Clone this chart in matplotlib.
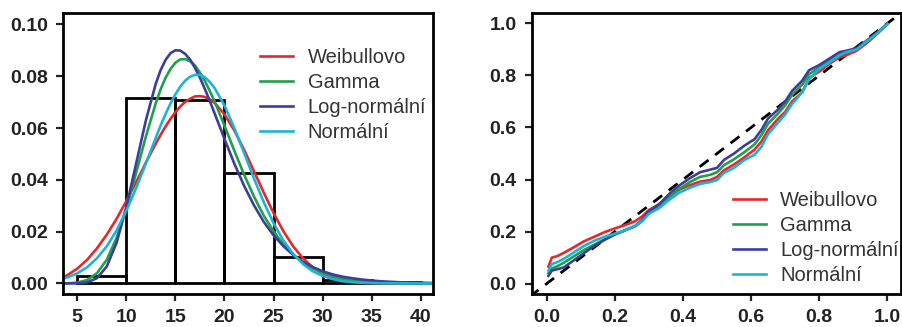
import numpy as np
import matplotlib
matplotlib.use("Agg")
import matplotlib.pyplot as plt

# histogram (bin edges and densities)
bin_left = [5, 10, 15, 20, 25, 30, 35]
bin_density = [0.0028, 0.0717, 0.0708, 0.0425, 0.0103, 0.0015, 0.0006]

# fitted density curves
dens_x = [3.5, 4, 5, 6, 7, 8, 9, 10, 11, 12, 13, 13.5, 14, 14.5, 15, 15.5, 16, 16.5,
          17, 17.5, 18, 18.5, 19, 20, 21, 22, 23, 24, 25, 26, 27, 28, 29, 30, 31, 32,
          33, 34, 35, 36, 37, 38, 39, 40, 41]
weibull = [0.0023, 0.0032, 0.0057, 0.0091, 0.0135, 0.0188, 0.0249, 0.0318, 0.0391, 0.0467,
           0.0540, 0.0574, 0.0606, 0.0635, 0.0661, 0.0683, 0.0701, 0.0713, 0.0722, 0.0723,
           0.0720, 0.0710, 0.0697, 0.0653, 0.0591, 0.0516, 0.0434, 0.0351, 0.0272, 0.0202,
           0.0143, 0.0097, 0.0062, 0.0038, 0.0022, 0.0012, 0.0006, 0.0003, 0.00013, 0.00005,
           0.00002, 0.0, 0.0, 0.0, 0.0]
gamma = [0.0, 0.00003, 0.0003, 0.0013, 0.0039, 0.0091, 0.0175, 0.0290, 0.0427, 0.0568,
         0.0696, 0.0750, 0.0794, 0.0828, 0.0852, 0.0865, 0.0866, 0.0858, 0.0841, 0.0814,
         0.0782, 0.0744, 0.0702, 0.0609, 0.0513, 0.0420, 0.0336, 0.0262, 0.0201, 0.0151,
         0.0111, 0.0081, 0.0058, 0.0041, 0.0028, 0.0019, 0.0013, 0.0009, 0.0006, 0.0004,
         0.00025, 0.00016, 0.0001, 0.00007, 0.00004]
lognormal = [0.0, 0.0, 0.0, 0.0004, 0.0020, 0.0065, 0.0156, 0.0295, 0.0463, 0.0631,
             0.0771, 0.0824, 0.0863, 0.0889, 0.0900, 0.0899, 0.0886, 0.0864, 0.0832, 0.0794,
             0.0751, 0.0705, 0.0656, 0.0558, 0.0463, 0.0377, 0.0302, 0.0238, 0.0186, 0.0144,
             0.0110, 0.0083, 0.0063, 0.0047, 0.0035, 0.0026, 0.0020, 0.0015, 0.0011, 0.0008,
             0.0006, 0.0004, 0.0003, 0.00023, 0.00017]
normal = [0.0018, 0.0023, 0.0039, 0.0062, 0.0097, 0.0143, 0.0204, 0.0280, 0.0368, 0.0464,
          0.0562, 0.0610, 0.0654, 0.0695, 0.0730, 0.0760, 0.0783, 0.0798, 0.0805, 0.0805,
          0.0796, 0.0778, 0.0754, 0.0687, 0.0600, 0.0504, 0.0406, 0.0314, 0.0233, 0.0166,
          0.0114, 0.0075, 0.0047, 0.0029, 0.0017, 0.0009, 0.0005, 0.00025, 0.00012, 0.00006,
          0.00003, 0.00001, 0.0, 0.0, 0.0]

# P-P plot
pp_x = [0.005, 0.015, 0.03, 0.05, 0.08, 0.11, 0.14, 0.17, 0.20, 0.23, 0.26, 0.28, 0.30,
        0.33, 0.36, 0.39, 0.42, 0.45, 0.48, 0.50, 0.52, 0.55, 0.58, 0.61, 0.63, 0.65,
        0.68, 0.70, 0.72, 0.75, 0.77, 0.80, 0.83, 0.86, 0.88, 0.91, 0.94, 0.97, 1.0]
pp_weibull = [0.065, 0.100, 0.105, 0.118, 0.140, 0.163, 0.180, 0.198, 0.212, 0.225, 0.240,
              0.258, 0.283, 0.305, 0.333, 0.362, 0.378, 0.392, 0.398, 0.410, 0.435, 0.458,
              0.485, 0.515, 0.545, 0.590, 0.635, 0.660, 0.700, 0.735, 0.790, 0.815, 0.845,
              0.870, 0.878, 0.895, 0.925, 0.960, 0.998]
pp_gamma = [0.040, 0.058, 0.066, 0.080, 0.105, 0.130, 0.150, 0.170, 0.188, 0.205, 0.220,
            0.240, 0.270, 0.298, 0.333, 0.365, 0.390, 0.410, 0.418, 0.428, 0.455, 0.478,
            0.505, 0.535, 0.570, 0.615, 0.655, 0.685, 0.725, 0.765, 0.805, 0.830, 0.855,
            0.880, 0.890, 0.900, 0.930, 0.962, 0.998]
pp_lognormal = [0.030, 0.050, 0.055, 0.062, 0.090, 0.118, 0.145, 0.168, 0.190, 0.205, 0.222,
                0.245, 0.278, 0.305, 0.345, 0.378, 0.405, 0.428, 0.438, 0.445, 0.475, 0.500,
                0.530, 0.555, 0.590, 0.635, 0.670, 0.700, 0.740, 0.780, 0.820, 0.840, 0.865,
                0.890, 0.895, 0.905, 0.935, 0.965, 0.998]
pp_normal = [0.050, 0.075, 0.082, 0.095, 0.120, 0.145, 0.165, 0.180, 0.192, 0.205, 0.222,
             0.240, 0.268, 0.290, 0.322, 0.350, 0.368, 0.383, 0.390, 0.398, 0.425, 0.445,
             0.475, 0.495, 0.525, 0.575, 0.620, 0.650, 0.690, 0.735, 0.785, 0.825, 0.850,
             0.878, 0.890, 0.900, 0.932, 0.962, 0.998]

labels = ["Weibullovo", "Gamma", "Log-normální", "Normální"]
colors = ["#e8262b", "#1fa04a", "#3b3f9a", "#1cb4d6"]

plt.rcParams['font.family'] = ['Liberation Sans', 'DejaVu Sans']

fig = plt.figure(figsize=(9.02, 3.27), dpi=100)
ax1 = fig.add_axes([0.0698, 0.1009, 0.4102, 0.8593])
ax2 = fig.add_axes([0.5895, 0.1009, 0.4094, 0.8593])

legend_kw = dict(frameon=False, fontsize=14.5, handlelength=1.65, handletextpad=0.72,
                 labelspacing=0.3, borderpad=0, borderaxespad=0, labelcolor='#333333')

# left: histogram + densities
ax1.bar(bin_left, bin_density, width=5, align='edge', fill=False,
        edgecolor='black', linewidth=2)
for ys, lab, c in zip([weibull, gamma, lognormal, normal], labels, colors):
    ax1.plot(dens_x, ys, color=c, lw=1.9, label=lab)
ax1.set_xlim(3.54, 41.25)
ax1.set_ylim(-0.0041, 0.1044)
ax1.set_xticks([5, 10, 15, 20, 25, 30, 35, 40])
ax1.set_yticks([0.0, 0.02, 0.04, 0.06, 0.08, 0.10])
ax1.set_yticklabels(["%.2f" % v for v in [0.0, 0.02, 0.04, 0.06, 0.08, 0.10]])
ax1.legend(loc='center left', bbox_to_anchor=(0.532, 0.708), **legend_kw)

# right: P-P plot
ax2.plot([-0.05, 1.05], [-0.05, 1.05], color='black', lw=2, ls=(0, (4, 3)))
for ys, lab, c in zip([pp_weibull, pp_gamma, pp_lognormal, pp_normal], labels, colors):
    ax2.plot(pp_x, ys, color=c, lw=1.9, label=lab)
ax2.set_xlim(-0.044, 1.04)
ax2.set_ylim(-0.04, 1.04)
ax2.set_xticks([0.0, 0.2, 0.4, 0.6, 0.8, 1.0])
ax2.set_yticks([0.0, 0.2, 0.4, 0.6, 0.8, 1.0])
ax2.set_xticklabels(["%.1f" % v for v in [0.0, 0.2, 0.4, 0.6, 0.8, 1.0]])
ax2.set_yticklabels(["%.1f" % v for v in [0.0, 0.2, 0.4, 0.6, 0.8, 1.0]])
ax2.legend(loc='center left', bbox_to_anchor=(0.544, 0.2), **legend_kw)

for ax in (ax1, ax2):
    for s in ax.spines.values():
        s.set_linewidth(2)
    ax.tick_params(direction='out', length=5, width=1.6, labelsize=14,
                   colors='#222222')
    ax.tick_params(axis='x', pad=6)
    ax.tick_params(axis='y', pad=6)
    for t in ax.get_xticklabels() + ax.get_yticklabels():
        t.set_fontweight('bold')

fig.savefig("out.png", dpi=100)
